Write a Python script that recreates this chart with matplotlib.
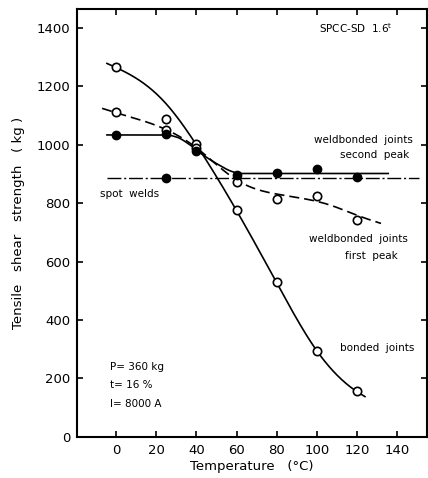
import numpy as np
import matplotlib
matplotlib.use("Agg")
import matplotlib.pyplot as plt

# ---- measured data points ----
temp = [0, 25, 40, 60, 80, 100, 120]
bonded = [1268, 1088, 1003, 776, 529, 295, 157]
weld_first = [1112, 1050, 990, 873, 813, 825, 742]
weld_second = [1034, 1038, 980, 896, 905, 917, 889]
spot_x = [25]
spot_y = [885]

# ---- hand-drawn fit curves (knots) ----
bonded_curve_x = [-4.6, 10, 25, 40, 60, 80, 100, 120, 124]
bonded_curve_y = [1279, 1228, 1140, 1000, 775, 528, 295, 155, 138]
first_curve_x = [-7, 0, 25, 40, 60, 83, 107, 120, 132]
first_curve_y = [1125, 1110, 1052, 990, 880, 828, 793, 759, 731]
second_curve_x = [-4.6, 25, 30, 37, 42, 50, 58.5, 62, 135.6]
second_curve_y = [1034, 1034, 1027, 999, 972, 936, 907, 902, 902]
spot_line_x = [-4.5, 151]
spot_line_y = [885, 885]

xticks = [0, 20, 40, 60, 80, 100, 120, 140]
yticks = [0, 200, 400, 600, 800, 1000, 1200, 1400]


def natural_spline(xs, ys, n=300):
    x = np.asarray(xs, float)
    y = np.asarray(ys, float)
    k = len(x)
    h = np.diff(x)
    A = np.zeros((k, k))
    r = np.zeros(k)
    A[0, 0] = A[-1, -1] = 1
    for i in range(1, k - 1):
        A[i, i - 1] = h[i - 1]
        A[i, i] = 2 * (h[i - 1] + h[i])
        A[i, i + 1] = h[i]
        r[i] = 3 * ((y[i + 1] - y[i]) / h[i] - (y[i] - y[i - 1]) / h[i - 1])
    c = np.linalg.solve(A, r)
    b = (y[1:] - y[:-1]) / h - h * (2 * c[:-1] + c[1:]) / 3
    d = (c[1:] - c[:-1]) / (3 * h)
    xx = np.linspace(x[0], x[-1], n)
    idx = np.clip(np.searchsorted(x, xx) - 1, 0, k - 2)
    dx = xx - x[idx]
    yy = y[idx] + b[idx] * dx + c[idx] * dx**2 + d[idx] * dx**3
    return xx, yy


def monotone(xs, ys, n=300):
    x = np.asarray(xs, float)
    y = np.asarray(ys, float)
    h = np.diff(x)
    d = np.diff(y) / h
    m = np.zeros_like(x)
    m[0], m[-1] = d[0], d[-1]
    for i in range(1, len(x) - 1):
        if d[i - 1] * d[i] <= 0:
            m[i] = 0
        else:
            w1 = 2 * h[i] + h[i - 1]
            w2 = h[i] + 2 * h[i - 1]
            m[i] = (w1 + w2) / (w1 / d[i - 1] + w2 / d[i])
    xx = np.linspace(x[0], x[-1], n)
    idx = np.clip(np.searchsorted(x, xx) - 1, 0, len(x) - 2)
    t = (xx - x[idx]) / h[idx]
    h00 = 2 * t**3 - 3 * t**2 + 1
    h10 = t**3 - 2 * t**2 + t
    h01 = -2 * t**3 + 3 * t**2
    h11 = t**3 - t**2
    yy = h00 * y[idx] + h10 * h[idx] * m[idx] + h01 * y[idx + 1] + h11 * h[idx] * m[idx + 1]
    return xx, yy


plt.rcParams['font.family'] = ['DejaVu Sans']
fig = plt.figure(figsize=(4.28, 4.78), dpi=100)
ax = fig.add_axes([0.18, 0.086, 0.818, 0.895])

lw = 1.2
bx, by = natural_spline(bonded_curve_x, bonded_curve_y)
ax.plot(bx, by, color='black', lw=lw)
fx, fy = natural_spline(first_curve_x, first_curve_y)
ax.plot(fx, fy, color='black', lw=lw, ls=(0, (6, 3)))
sx, sy = monotone(second_curve_x, second_curve_y)
ax.plot(sx, sy, color='black', lw=lw)
ax.plot(spot_line_x, spot_line_y, color='black', lw=1.0, ls=(0, (10, 2, 1.5, 2)))

ms = 6
ax.plot(temp, bonded, 'o', mfc='white', mec='black', mew=1.2, ms=ms, ls='none')
ax.plot(temp, weld_first, 'o', mfc='white', mec='black', mew=1.2, ms=ms, ls='none')
ax.plot(temp, weld_second, 'o', mfc='black', mec='black', ms=ms, ls='none')
ax.plot(spot_x, spot_y, 'o', mfc='black', mec='black', ms=ms, ls='none')

ax.set_xlim(-19.5, 155)
ax.set_ylim(0, 1465)
ax.set_xticks(xticks)
ax.set_yticks(yticks)
ax.tick_params(direction='in', length=4, width=1.2, top=True, right=True,
               labelsize=9.5, pad=5)
for s in ax.spines.values():
    s.set_linewidth(1.5)

ax.set_xlabel('Temperature   (°C)', fontsize=9.5, labelpad=2)
ax.set_ylabel('Tensile   shear   strength   ( kg )', fontsize=9.5, labelpad=8)

fs = 7.5
ax.text(101, 1400, 'SPCC-SD  1.6$^{\\mathsf{t}}$', fontsize=fs, va='center', ha='left')
ax.text(123, 1015, 'weldbonded  joints', fontsize=fs, ha='center', va='center')
ax.text(129, 967, 'second  peak', fontsize=fs, ha='center', va='center')
ax.text(-8, 833, 'spot  welds', fontsize=fs, ha='left', va='center')
ax.text(121, 676, 'weldbonded  joints', fontsize=fs, ha='center', va='center')
ax.text(127, 620, 'first  peak', fontsize=fs, ha='center', va='center')
ax.text(130, 303, 'bonded  joints', fontsize=fs, ha='center', va='center')
ax.text(-3, 240, 'P= 360 kg', fontsize=fs, ha='left', va='center')
ax.text(-3, 177, 't= 16 %', fontsize=fs, ha='left', va='center')
ax.text(-3, 114, 'I= 8000 A', fontsize=fs, ha='left', va='center')

fig.savefig('out.png', dpi=100)
